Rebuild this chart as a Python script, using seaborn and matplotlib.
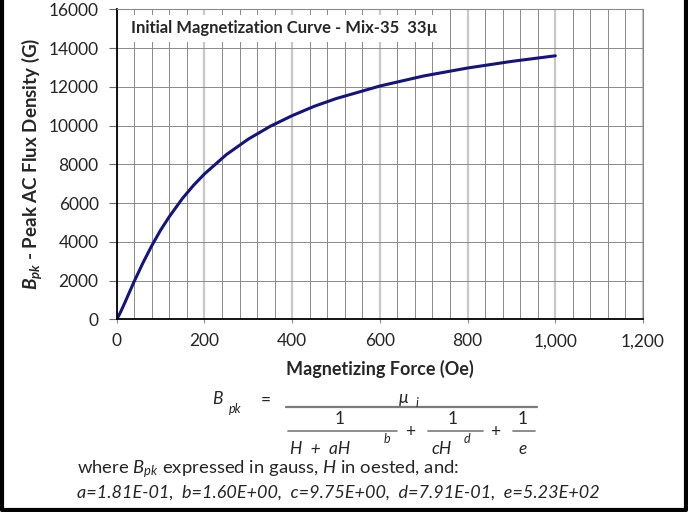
import numpy as np
import pandas as pd
import seaborn as sns
import matplotlib.pyplot as plt
from matplotlib.lines import Line2D
from matplotlib.ticker import FuncFormatter

# magnetizing force (Oe) and peak flux density (G)
H_OE = [0, 5, 10, 20, 30, 40, 60, 80, 100, 120, 150, 175, 200, 250, 300, 350,
        400, 450, 500, 600, 700, 800, 900, 1000]
B_G = [0, 200, 430, 930, 1450, 1960, 2920, 3800, 4600, 5300, 6240, 6910, 7500,
       8500, 9300, 9960, 10510, 10990, 11390, 12040, 12560, 12970, 13310, 13600]

X_TICKS = [0, 200, 400, 600, 800, 1000, 1200]
Y_TICKS = [0, 2000, 4000, 6000, 8000, 10000, 12000, 14000, 16000]

TITLE = 'Initial Magnetization Curve - Mix-35  33\u00b5'
COEFFS = 'a=1.81E-01,  b=1.60E+00,  c=9.75E+00,  d=7.91E-01,  e=5.23E+02'

CURVE_COLOR = '#14147f'
W, H = 688, 512

sns.set_theme(style='white')
plt.rcParams['font.family'] = ['Lato', 'DejaVu Sans']
plt.rcParams['mathtext.fontset'] = 'custom'
plt.rcParams['mathtext.rm'] = 'Lato'
plt.rcParams['mathtext.it'] = 'Lato:italic'
plt.rcParams['mathtext.bf'] = 'Lato:bold'
plt.rcParams['mathtext.bfit'] = 'Lato:bold:italic'

data = pd.DataFrame({'H': H_OE, 'B': B_G})

fig = plt.figure(figsize=(W / 100, H / 100), dpi=100)
ax = fig.add_axes([116.7 / W, 1 - 319.3 / H, (643 - 116.7) / W, (319.3 - 9.3) / H])

sns.lineplot(data=data, x='H', y='B', ax=ax, color=CURVE_COLOR, lw=2.2)

ax.set_xlim(0, 1200)
ax.set_ylim(0, 16000)
ax.set_xticks(X_TICKS)
ax.set_xticks(np.arange(0, 1201, 40), minor=True)
ax.set_yticks(Y_TICKS)
ax.xaxis.set_major_formatter(FuncFormatter(lambda v, p: f'{int(v):,}'))

ax.grid(which='major', axis='x', color='#c8c8c8', lw=1.6)
ax.grid(which='minor', axis='x', color='#8a8a8a', lw=0.7)
ax.grid(which='major', axis='y', color='#8a8a8a', lw=0.7)
ax.set_axisbelow(True)

ax.tick_params(axis='x', which='major', length=3, width=0.8, color='#8a8a8a',
               direction='out', labelsize=12.5, pad=7, bottom=True)
ax.tick_params(axis='x', which='minor', length=0)
ax.tick_params(axis='y', length=6, width=0.8, color='#6a6a6a', direction='out',
               labelsize=12.5, pad=7, left=True)

for side in ['left', 'bottom']:
    ax.spines[side].set_color('black')
    ax.spines[side].set_linewidth(1.3)
for side in ['top', 'right']:
    ax.spines[side].set_color('#8a8a8a')
    ax.spines[side].set_linewidth(0.8)

ax.set_xlabel('Magnetizing Force (Oe)', fontsize=13, fontweight='bold', labelpad=8)
ax.set_ylabel(r'$\mathbfit{B_{pk}}$ - Peak AC Flux Density (G)', fontsize=13.5,
              fontweight='bold')
ax.yaxis.set_label_coords((44 - 116.7) / (643 - 116.7), 0.5)


def ftext(x, y, s, **kw):
    kw.setdefault('ha', 'center')
    kw.setdefault('va', 'center')
    return fig.text(x / W, 1 - y / H, s, **kw)


def fline(x0, x1, y, lw=1.2):
    fig.add_artist(Line2D([x0 / W, x1 / W], [1 - y / H, 1 - y / H],
                          transform=fig.transFigure, color='#7a7a7a', lw=lw))


# chart title in a white box over the grid
ftext(284, 28, TITLE, fontsize=12, fontweight='bold',
      bbox=dict(facecolor='white', edgecolor='none', pad=4))

# formula
ftext(217.5, 399, 'B', fontsize=12.5, style='italic')
ftext(235, 409, 'pk', fontsize=9, style='italic')
ftext(266, 400, '=', fontsize=12.5)
fline(286, 537, 407, lw=1.6)
ftext(404, 398, '\u03bc', fontsize=12.5, style='italic')
ftext(417, 403, 'i', fontsize=9, style='italic')

ftext(340, 418.5, '1', fontsize=12.5)
fline(288, 397, 431)
ftext(290, 449, 'H  +  aH', fontsize=12.5, style='italic', ha='left')
ftext(387, 439, 'b', fontsize=9, style='italic')
ftext(410, 432, '+', fontsize=12.5)

ftext(453, 418.5, '1', fontsize=12.5)
fline(428, 483, 431)
ftext(432, 449, 'cH', fontsize=12.5, style='italic', ha='left')
ftext(467, 439, 'd', fontsize=9, style='italic')
ftext(495, 432, '+', fontsize=12.5)

ftext(523, 418.5, '1', fontsize=12.5)
fline(513, 535, 431)
ftext(523, 449, 'e', fontsize=12.5, style='italic')

ftext(77, 469, r'where $B_{pk}$ expressed in gauss, $H$ in oested, and:',
      fontsize=13.3, ha='left')
ftext(77, 493, COEFFS, fontsize=13, style='italic', ha='left')

# figure border (left, bottom, right)
fig.add_artist(Line2D([2 / W, 2 / W, 686 / W, 686 / W], [1, 1 - 509.5 / H, 1 - 509.5 / H, 1],
                      transform=fig.transFigure, color='black', lw=3))

fig.savefig('out.png', dpi=100)
